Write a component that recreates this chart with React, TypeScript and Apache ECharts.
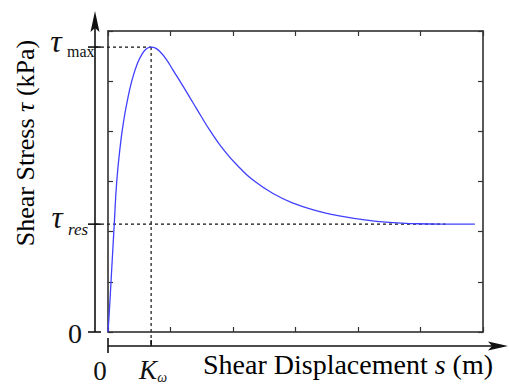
import React, { useEffect, useRef } from "react";
import * as echarts from "echarts";

// Shear displacement (normalised axis units) and shear stress
const displacement = [0, 0.02, 0.05, 0.1, 0.14, 0.2, 0.25, 0.3, 0.38, 0.47, 0.55, 0.62, 0.69, 0.76, 0.83, 0.93, 1.04, 1.2, 1.36, 1.49, 1.63, 1.87, 2.11, 2.32, 2.64, 2.96, 3.39, 3.6, 4.14, 4.56, 4.88, 5.36, 5.87];
const shearStress = [0, 0.38, 1.04, 2.15, 3.0, 3.75, 4.2, 4.55, 5.0, 5.35, 5.55, 5.65, 5.68, 5.66, 5.59, 5.44, 5.22, 4.9, 4.57, 4.3, 4.02, 3.6, 3.27, 3.03, 2.76, 2.57, 2.4, 2.34, 2.23, 2.18, 2.16, 2.15, 2.15];

const peakPoint = [0.69, 5.68]; // [K_omega, tau_max]
const residualStress = 2.15; // tau_res
const residualLineEnd = 5.4;
const axisMin = 0;
const axisMax = 6;
const axisInterval = 1;

const yLabel = ["Shear Stress ", "τ", " (kPa)"];
const xLabel = ["Shear Displacement ", "s", " (m)"];
const zeroLabel = "0";
const tauSymbol = "τ";
const maxSub = "max";
const resSub = "res";
const kSymbol = "K";
const omegaSub = "ω";

const FONT = '"Liberation Serif", "Times New Roman", serif';
const INK = "#111111";
const DARK = "#222222";

export default function App() {
  const ref = useRef<HTMLDivElement>(null);

  useEffect(() => {
    document.body.style.margin = "0";
    const chart = echarts.init(ref.current!, undefined, { renderer: "svg" });
    const axisCommon = {
      type: "value" as const,
      min: axisMin,
      max: axisMax,
      interval: axisInterval,
      axisLine: { show: true, onZero: false, lineStyle: { color: DARK, width: 1.5 } },
      axisTick: { show: true, inside: true, length: 5, lineStyle: { color: "#333", width: 1.2 } },
      axisLabel: { show: false },
      splitLine: { show: false },
    };
    chart.setOption({
      animation: false,
      grid: { left: 108, top: 31, width: 375, height: 301 },
      xAxis: [
        { ...axisCommon, position: "bottom" },
        { ...axisCommon, position: "top" },
      ],
      yAxis: [
        { ...axisCommon, position: "left" },
        { ...axisCommon, position: "right" },
      ],
      series: [
        {
          type: "line",
          data: displacement.map((x, i) => [x, shearStress[i]]),
          showSymbol: false,
          smooth: 0.5,
          lineStyle: { color: "#4040ff", width: 1.3 },
          z: 5,
        },
      ],
    });

    const px = (x: number, y: number) => chart.convertToPixel({ gridIndex: 0 }, [x, y]) as number[];
    const [x0, y0] = px(0, 0);
    const [xk, yPeak] = px(peakPoint[0], peakPoint[1]);
    const [xResEnd, yRes] = px(residualLineEnd, residualStress);

    const outerY = x0 - 13;
    const outerX = y0 + 14;
    const dash = { stroke: INK, lineWidth: 1.2, lineDash: [3, 3] };
    const solid = { stroke: INK, lineWidth: 1.6 };
    const line = (x1: number, y1: number, x2: number, y2: number, style: any) => ({
      type: "line",
      shape: { x1, y1, x2, y2 },
      style,
      silent: true,
    });
    const text = (t: string, x: number, y: number, size: number, italic: boolean, align = "center") => ({
      type: "text",
      style: {
        text: t,
        x,
        y,
        fill: INK,
        fontSize: size,
        fontFamily: FONT,
        fontStyle: italic ? "italic" : "normal",
        textAlign: align,
        textVerticalAlign: "middle",
      },
      silent: true,
    });
    const richX = {
      n: { fontSize: 28, fontFamily: FONT, color: INK },
      i: { fontSize: 28, fontFamily: FONT, fontStyle: "italic", color: INK },
    };
    const richY = {
      n: { fontSize: 26, fontFamily: FONT, color: INK },
      i: { fontSize: 26, fontFamily: FONT, fontStyle: "italic", color: INK },
    };

    chart.setOption({
      graphic: [
        // outer vertical axis with arrow
        line(outerY, y0, outerY, 24, solid),
        { type: "polygon", shape: { points: [[outerY, 11], [outerY - 4.5, 32], [outerY, 28], [outerY + 4.5, 32]] }, style: { fill: INK }, silent: true },
        // outer horizontal axis with arrow
        line(x0, outerX, 494, outerX, solid),
        { type: "polygon", shape: { points: [[508, outerX], [488, outerX - 4.5], [492, outerX], [488, outerX + 4.5]] }, style: { fill: INK }, silent: true },
        // ticks on outer axes
        line(outerY - 7, y0, outerY + 6, y0, solid),
        line(outerY - 7, yRes, outerY + 6, yRes, solid),
        line(outerY - 7, yPeak, outerY + 6, yPeak, solid),
        line(x0, outerX - 8, x0, outerX + 7, solid),
        line(xk, outerX - 6, xk, outerX, solid),
        // dotted guides
        line(outerY, yPeak, xk, yPeak, dash),
        line(xk, yPeak, xk, outerX, dash),
        line(outerY, yRes, xResEnd, yRes, dash),
        // labels
        text(zeroLabel, outerY - 20, y0 + 1, 28, false),
        text(zeroLabel, x0 - 8, y0 + 39, 27, false),
        text(tauSymbol, 56, yPeak - 6, 32, true),
        text(maxSub, 67, yPeak + 4, 16, false, "left"),
        text(tauSymbol, 57, yRes - 7, 31, true),
        text(resSub, 68, yRes + 5, 17, true, "left"),
        text(kSymbol, xk - 3, outerX + 24, 27, true),
        text(omegaSub, xk + 11, outerX + 31, 14, true),
        {
          type: "text",
          style: {
            text: `{n|${xLabel[0]}}{i|${xLabel[1]}}{n|${xLabel[2]}}`,
            x: 348,
            y: outerX + 18,
            rich: richX,
            textAlign: "center",
            textVerticalAlign: "middle",
          },
          silent: true,
        },
        {
          type: "text",
          rotation: Math.PI / 2,
          x: 25,
          y: 143,
          style: {
            text: `{n|${yLabel[0]}}{i|${yLabel[1]}}{n|${yLabel[2]}}`,
            x: 0,
            y: 0,
            rich: richY,
            textAlign: "center",
            textVerticalAlign: "middle",
          },
          silent: true,
        },
      ],
    });

    return () => chart.dispose();
  }, []);

  return <div ref={ref} style={{ width: 509, height: 386, position: "absolute", left: 0, top: 0 }} />;
}
